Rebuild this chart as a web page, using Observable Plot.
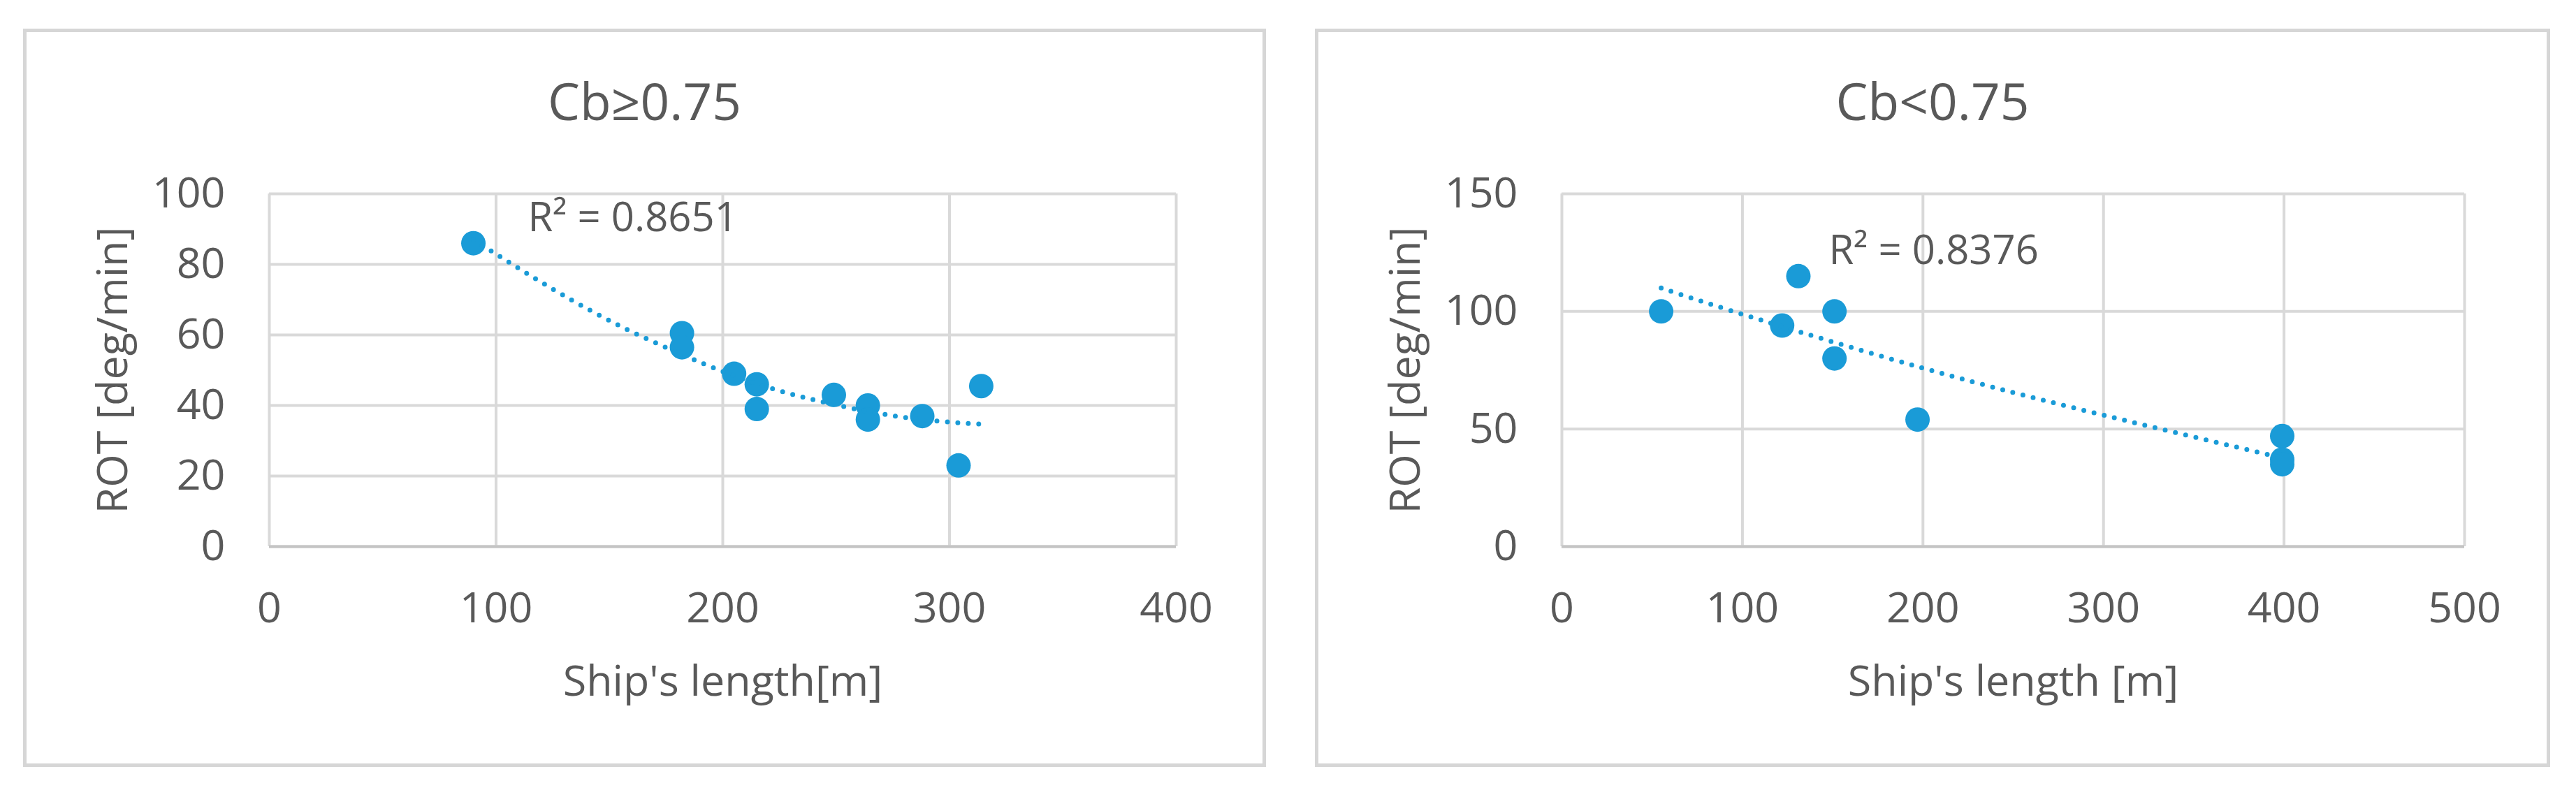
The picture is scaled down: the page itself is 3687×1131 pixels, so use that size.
<!DOCTYPE html>
<html>
<head>
<meta charset="utf-8">
<script src="https://cdn.jsdelivr.net/npm/d3@7"></script>
<script src="https://cdn.jsdelivr.net/npm/@observablehq/plot@0.6"></script>
<style>
  body { margin: 0; background: #fff; width: 3687px; height: 1131px; position: relative; overflow: hidden;
         font-family: "Open Sans", sans-serif; color: #595959; }
  .panel { position: absolute; top: 41px; height: 1057px; box-sizing: border-box; border: 5px solid #d6d6d6; }
  .title { position: absolute; top: 107px; font-size: 73px; line-height: 1; text-align: center; white-space: nowrap; }
  .chart { position: absolute; top: 200px; }
</style>
</head>
<body>
<div class="panel" style="left:33px;width:1779px"></div>
<div class="panel" style="left:1882px;width:1768px"></div>
<div class="title" style="left:33px;width:1779px">Cb≥0.75</div>
<div class="title" style="left:1882px;width:1768px">Cb&lt;0.75</div>
<div class="chart" id="left" style="left:35px"></div>
<div class="chart" id="right" style="left:1884px"></div>
<script>
// Cb >= 0.75
const lengthHigh = [90, 182, 182, 205, 215, 215, 249, 264, 264, 288, 304, 314];
const rotHigh = [86, 60.5, 56.5, 49, 46, 39, 43, 40, 36, 37, 23, 45.5];
const trendHighX = [90, 125, 158, 191, 226, 274, 314];
const trendHighY = [87, 73, 61.5, 52, 44, 37.2, 34.7];

// Cb < 0.75
const lengthLow = [55, 122, 131, 151, 151, 197, 399, 399, 399];
const rotLow = [100, 94, 115, 100, 80, 54, 47, 37, 35];
const trendLowX = [55, 100, 200, 300, 399];
const trendLowY = [110, 98.8, 75.9, 55.9, 37.7];

const xTicksHigh = [0, 100, 200, 300, 400];
const yTicksHigh = [0, 20, 40, 60, 80, 100];
const xTicksLow = [0, 100, 200, 300, 400, 500];
const yTicksLow = [0, 50, 100, 150];

const blue = "#1a9bd7";
const grey = "#595959";

function scatter({xs, ys, tx, ty, xTicks, yTicks, xLabel, r2, r2dx, r2dy, width, marginLeft, marginRight}) {
  const pts = xs.map((x, i) => ({x, y: ys[i]}));
  const trend = tx.map((x, i) => ({x, y: ty[i]}));
  const xMax = xTicks[xTicks.length - 1];
  const yMax = yTicks[yTicks.length - 1];
  return Plot.plot({
    width, height: 890,
    marginLeft, marginRight, marginTop: 77, marginBottom: 308,
    style: { fontFamily: "Open Sans", color: grey, background: "transparent" },
    x: { domain: [0, xMax] },
    y: { domain: [0, yMax] },
    marks: [
      Plot.gridX(xTicks, { stroke: "#d9d9d9", strokeOpacity: 1, strokeWidth: 4 }),
      Plot.gridY(yTicks, { stroke: "#d9d9d9", strokeOpacity: 1, strokeWidth: 4 }),
      Plot.ruleY([0], { stroke: "#c4c4c4", strokeWidth: 4 }),
      Plot.axisX(xTicks, { tickSize: 0, tickPadding: 65, fontSize: 61, fill: grey,
        label: xLabel, labelAnchor: "center", labelArrow: "none", labelOffset: 213 }),
      Plot.axisY(yTicks, { tickSize: 0, tickPadding: 63, fontSize: 61, fill: grey,
        label: "ROT [deg/min]", labelAnchor: "center", labelArrow: "none", labelOffset: 247 }),
      Plot.dot(pts, { x: "x", y: "y", r: 17.5, fill: blue }),
      Plot.line(trend, { x: "x", y: "y", stroke: blue, strokeWidth: 7, strokeDasharray: "0 15",
        strokeLinecap: "round", curve: "natural" }),
      Plot.text([r2], { frameAnchor: "top-left", dx: r2dx, dy: r2dy, text: d => d, textAnchor: "start",
        lineAnchor: "bottom", fontSize: 58, fill: grey })
    ]
  });
}

document.getElementById("left").append(scatter({
  xs: lengthHigh, ys: rotHigh, tx: trendHighX, ty: trendHighY,
  xTicks: xTicksHigh, yTicks: yTicksHigh, xLabel: "Ship's length[m]",
  r2: "R² = 0.8651", r2dx: 370, r2dy: 53,
  width: 1775, marginLeft: 350, marginRight: 127
}));
document.getElementById("right").append(scatter({
  xs: lengthLow, ys: rotLow, tx: trendLowX, ty: trendLowY,
  xTicks: xTicksLow, yTicks: yTicksLow, xLabel: "Ship's length [m]",
  r2: "R² = 0.8376", r2dx: 382, r2dy: 100,
  width: 1764, marginLeft: 351, marginRight: 121
}));
</script>
</body>
</html>
